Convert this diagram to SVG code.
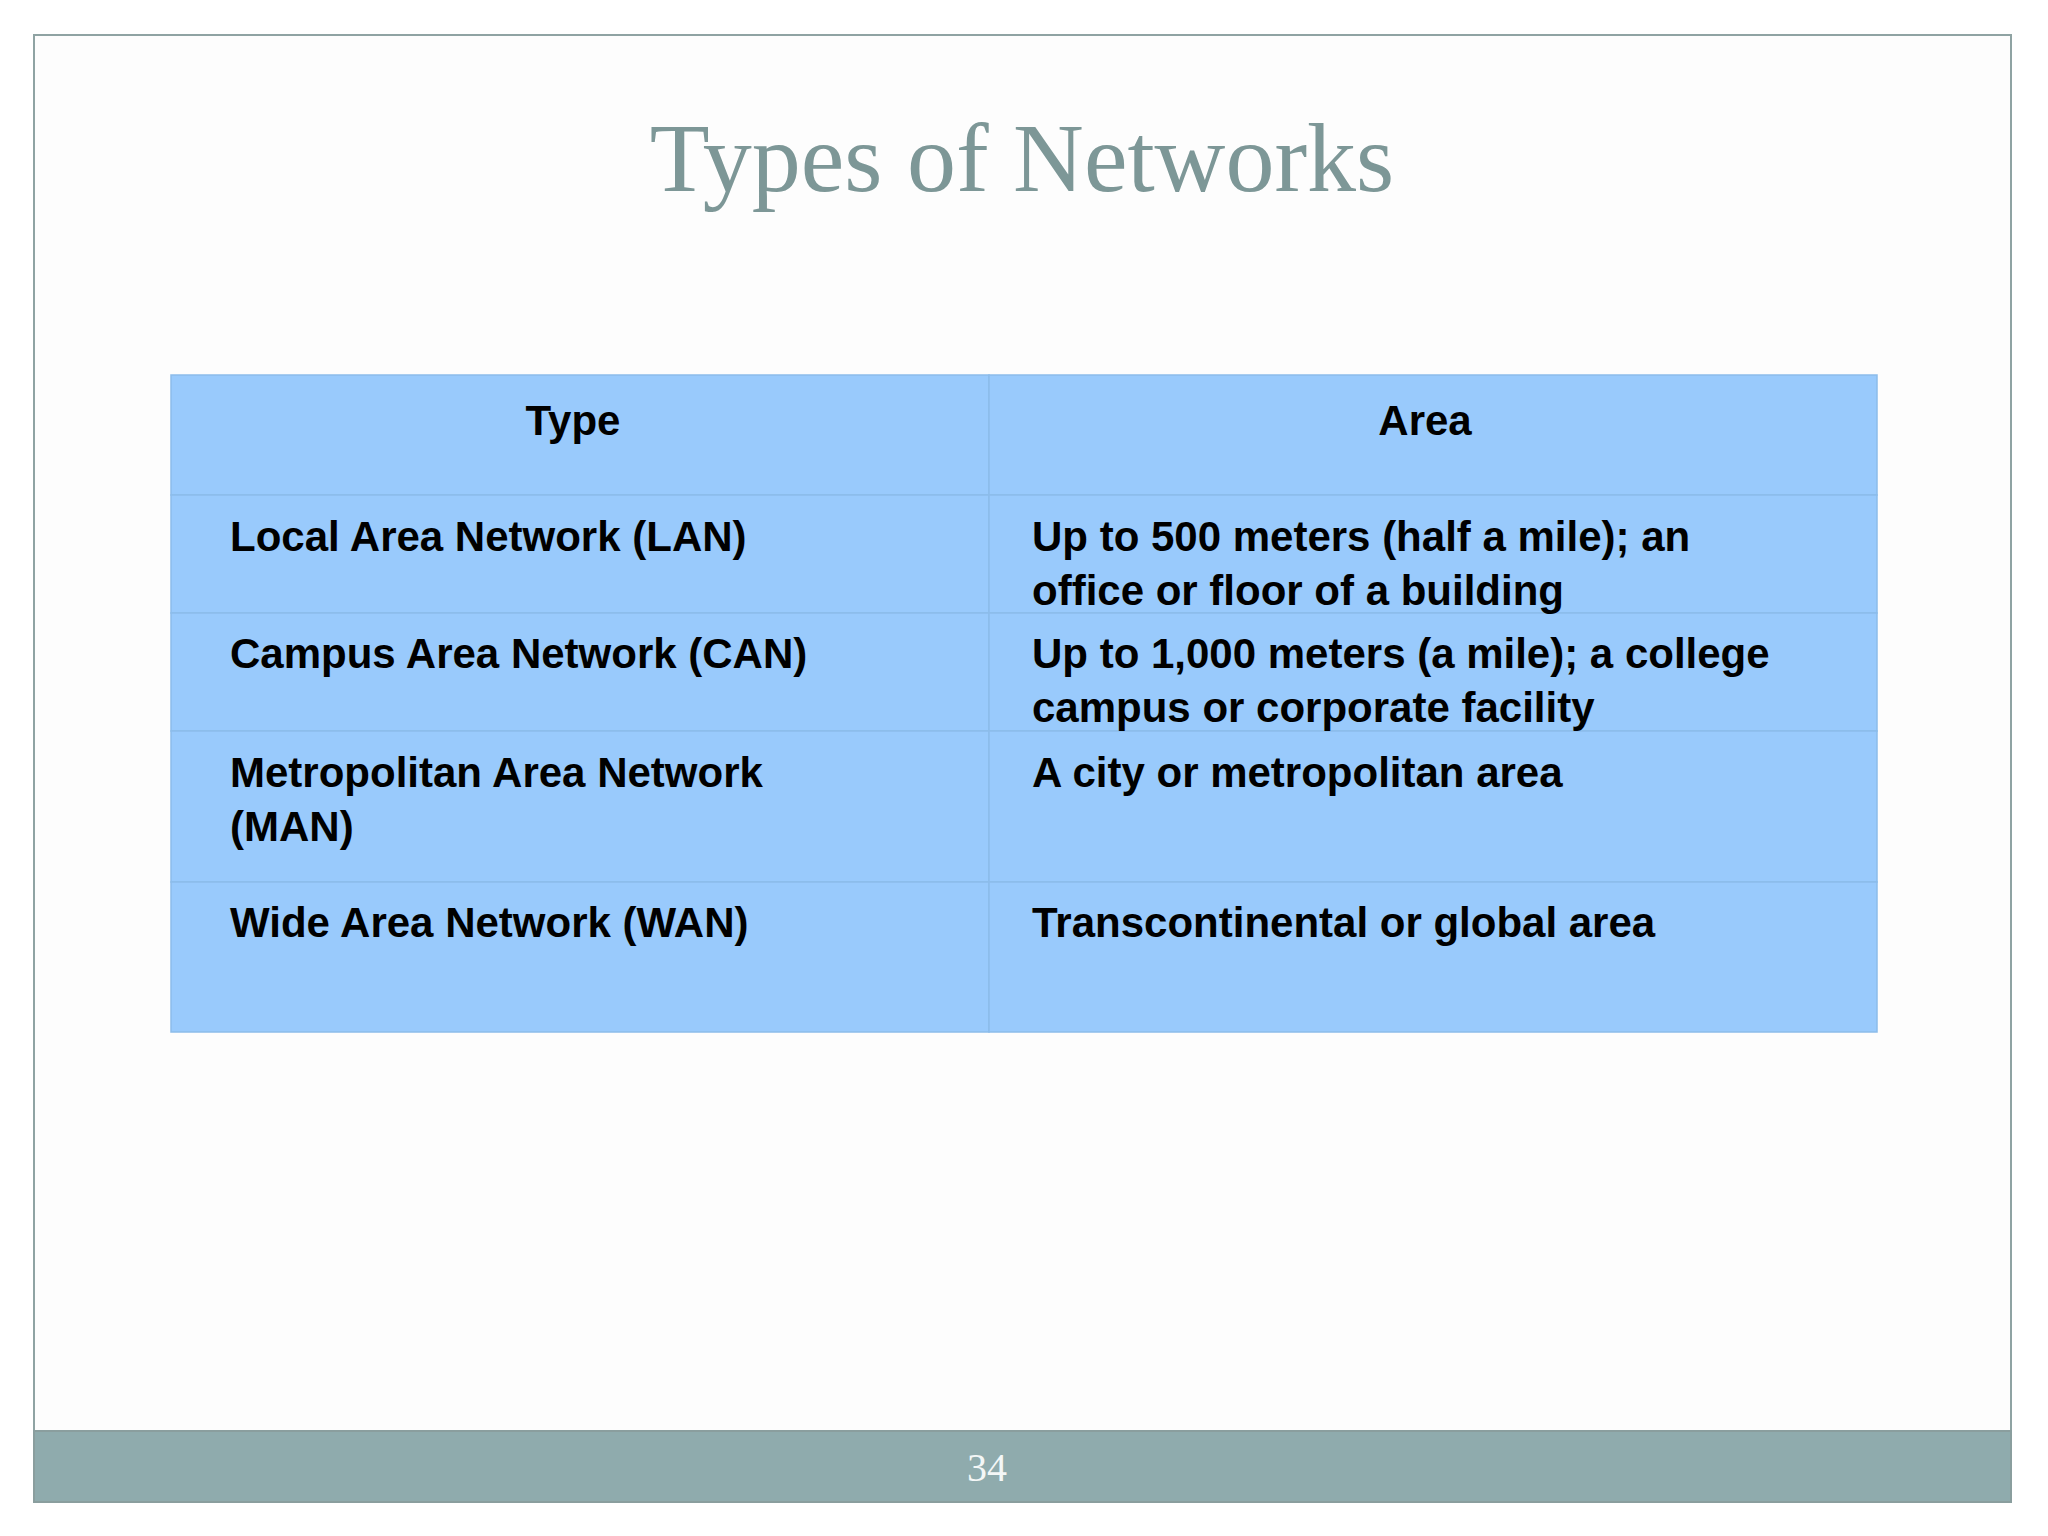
<svg xmlns="http://www.w3.org/2000/svg" width="2048" height="1536" viewBox="0 0 2048 1536">
<style>
.t{font-family:"Liberation Sans",Arial,sans-serif;font-weight:bold;font-size:42px;fill:#000}
.c{fill:#99CAFC;stroke:#8CBCEA;stroke-width:1.5}
</style>
<rect x="0" y="0" width="2048" height="1536" fill="#fff"/>
<rect x="34" y="35" width="1977" height="1467" fill="#fdfdfd" stroke="#8FA3A3" stroke-width="2"/>
<rect x="34" y="1431" width="1977" height="71" fill="#8FABAD" stroke="#8A9E9E" stroke-width="2"/>
<text x="987" y="1481" text-anchor="middle" font-family="Liberation Serif,serif" font-size="40" fill="#f4f7f7">34</text>
<text x="1022" y="191" text-anchor="middle" font-family="Liberation Serif,Georgia,serif" font-size="98" fill="#7D9797">Types of Networks</text>
<g id="table">
<rect class="c" x="171" y="375" width="818" height="120"/>
<rect class="c" x="989" y="375" width="888" height="120"/>
<rect class="c" x="171" y="495" width="818" height="118"/>
<rect class="c" x="989" y="495" width="888" height="118"/>
<rect class="c" x="171" y="613" width="818" height="118"/>
<rect class="c" x="989" y="613" width="888" height="118"/>
<rect class="c" x="171" y="731" width="818" height="151"/>
<rect class="c" x="989" y="731" width="888" height="151"/>
<rect class="c" x="171" y="882" width="818" height="150"/>
<rect class="c" x="989" y="882" width="888" height="150"/>
</g>
<g id="text">
<text class="t" x="573" y="435" text-anchor="middle">Type</text>
<text class="t" x="1425" y="435" text-anchor="middle">Area</text>
<text class="t" x="230" y="551">Local Area Network (LAN)</text>
<text class="t" x="1032" y="551">Up to 500 meters (half a mile); an</text>
<text class="t" x="1032" y="605">office or floor of a building</text>
<text class="t" x="230" y="668">Campus Area Network (CAN)</text>
<text class="t" x="1032" y="668">Up to 1,000 meters (a mile); a college</text>
<text class="t" x="1032" y="722">campus or corporate facility</text>
<text class="t" x="230" y="787">Metropolitan Area Network</text>
<text class="t" x="230" y="841">(MAN)</text>
<text class="t" x="1032" y="787">A city or metropolitan area</text>
<text class="t" x="230" y="937">Wide Area Network (WAN)</text>
<text class="t" x="1032" y="937">Transcontinental or global area</text>
</g>
</svg>
